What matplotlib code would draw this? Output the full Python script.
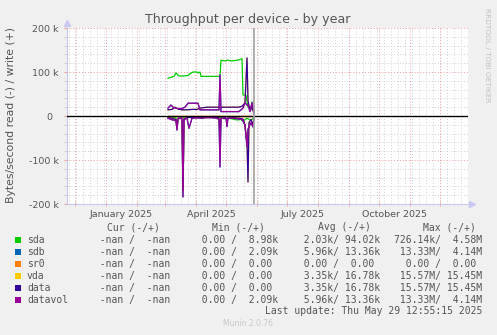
import numpy as np
import matplotlib
matplotlib.use('Agg')
import matplotlib.pyplot as plt
from matplotlib.patches import Rectangle

W, H = 497, 335

# x = dias desde 2025-02-01, valores em kB/s
sda_w_days = [31, 34, 37, 39, 41, 42, 46, 51, 53, 56, 60, 61, 63, 64, 70, 76, 83,
              84, 88, 91, 94, 101, 105, 106, 109, 111, 114, 115, 116, 117]
sda_write = [86, 88, 90, 98, 93, 91, 91, 92, 96, 100, 100, 98, 100, 90, 90, 90, 90,
             127, 125, 127, 125, 127, 130, 48, 47, 20, 18, 32, 17, 9]
sda_r_days = [31, 35, 39, 40, 41, 44, 50, 55, 60, 65, 70, 75, 80, 84, 88, 92, 96,
              100, 104, 106, 110, 114, 117]
sda_read = [3, 2, 5, 25, 8, 3, 2, 4, 2, 3, 2, 3, 2, 4, 6, 5, 7, 9, 8, 12, 5, 10, 3]

data_w_days = [31, 35, 38, 41, 45, 50, 55, 60, 63, 70, 78, 84, 90, 96, 102, 105,
               108, 110, 111, 113, 115, 117]
data_write = [14, 15, 20, 16, 14, 14, 15, 15, 18, 20, 20, 20, 20, 20, 20, 22,
              30, 132, 35, 12, 20, 5]
data_r_days = [31, 35, 39, 40, 41, 45, 46, 47, 52, 58, 64, 70, 76, 82, 83, 84, 90,
               96, 102, 106, 108, 109, 110, 111, 112, 114, 116, 117]
data_read = [4, 5, 8, 28, 6, 4, 170, 6, 3, 4, 3, 4, 3, 4, 40, 5, 6,
             4, 5, 7, 20, 45, 60, 150, 15, 8, 20, 4]

datavol_w_days = [31, 34, 36, 40, 45, 48, 51, 55, 58, 61, 63, 70, 78, 82, 83, 84,
                  90, 96, 102, 106, 108, 110, 111, 113, 115, 117]
datavol_write = [18, 25, 20, 17, 17, 20, 29, 29, 29, 29, 14, 14, 14, 14, 93, 10,
                 10, 10, 10, 18, 30, 25, 25, 10, 30, 8]
datavol_r_days = [31, 34, 38, 39, 40, 41, 44, 45, 46, 47, 50, 52, 55, 60, 65, 70,
                  75, 80, 82, 83, 84, 88, 89, 90, 91, 95, 100, 105, 108, 109, 110,
                  111, 114, 116, 117]
datavol_read = [5, 8, 10, 12, 32, 5, 5, 10, 184, 8, 5, 28, 5, 4, 5, 3,
                4, 5, 8, 116, 6, 3, 5, 24, 4, 5, 6, 8, 20, 45, 70,
                30, 15, 25, 5]

sr0_days = [31, 117]
sr0_vals = [0, 0]

legend_names = ['sda', 'sdb', 'sr0', 'vda', 'data', 'datavol']
legend_colors = ['#00cc00', '#0066b3', '#ff8000', '#ffcc00', '#330099', '#990099']
cur_col = ['  -nan /  -nan ', '  -nan /  -nan ', '  -nan /  -nan ',
           '  -nan /  -nan ', '  -nan /  -nan ', '  -nan /  -nan ']
min_col = ['  0.00 /  8.98k', '  0.00 /  2.09k', '  0.00 /  0.00 ',
           '  0.00 /  0.00 ', '  0.00 /  0.00 ', '  0.00 /  2.09k']
avg_col = ['  2.03k/ 94.02k', '  5.96k/ 13.36k', '  0.00 /  0.00 ',
           '  3.35k/ 16.78k', '  3.35k/ 16.78k', '  5.96k/ 13.36k']
max_col = ['726.14k/  4.58M', ' 13.33M/  4.14M', '  0.00 /  0.00 ',
           ' 15.57M/ 15.45M', ' 15.57M/ 15.45M', ' 13.33M/  4.14M']
headers = ['Cur (-/+)', 'Min (-/+)', 'Avg (-/+)', 'Max (-/+)']

ytick_vals = [-200000, -100000, 0, 100000, 200000]
ytick_labels = ['-200 k', '-100 k', '0  ', '100 k', '200 k']
xtick_months = ['2025-01', '2025-04', '2025-07', '2025-10']
xtick_labels = ['January 2025', 'April 2025', 'July 2025', 'October 2025']

series = [
    ('sda', sda_w_days, sda_write, sda_r_days, sda_read),
    ('sdb', datavol_w_days, datavol_write, datavol_r_days, datavol_read),
    ('sr0', sr0_days, sr0_vals, sr0_days, sr0_vals),
    ('vda', data_w_days, data_write, data_r_days, data_read),
    ('data', data_w_days, data_write, data_r_days, data_read),
    ('datavol', datavol_w_days, datavol_write, datavol_r_days, datavol_read),
]

plt.rcParams['font.family'] = 'DejaVu Sans'
base = np.datetime64('2025-02-01')


def days(d):
    return (np.datetime64(d, 'D') - base).astype(int)


def fx(x):
    return x / W


def fy(y):
    return 1 - y / H


fig = plt.figure(figsize=(W / 100, H / 100), dpi=100, facecolor='#f0f0f0')
ax = fig.add_axes([fx(67), fy(204), (468 - 67) / W, (204 - 28) / H])
ax.set_facecolor('white')
ax.set_xlim(-70, 331)
ax.set_ylim(-200000, 200000)

# grade
axis_col = '#c8c8f0'
for y in range(-200000, 200001, 20000):
    if y % 100000:
        ax.axhline(y, color='#d0d0d0', lw=0.7, ls=(0, (1, 2)), zorder=0)
for d in range(days('2024-11-25'), 331, 7):
    ax.axvline(d, color='#d0d0d0', lw=0.7, ls=(0, (1, 2)), zorder=0)
months = [days(m.astype('datetime64[D]'))
          for m in np.arange(np.datetime64('2024-12'), np.datetime64('2026-01'))]
for d in months:
    ax.axvline(d, color='#eea0a0', lw=0.7, ls=(0, (1, 2)), zorder=0.5)
for y in [-100000, 100000, 200000]:
    ax.axhline(y, color='#eea0a0', lw=0.7, ls=(0, (1, 2)), zorder=0.5)

# series
for (name, wd, wv, rd, rv), col in zip(series, legend_colors):
    ax.plot(wd, np.array(wv) * 1000, color=col, lw=0.9, zorder=2)
    ax.plot(rd, -np.array(rv) * 1000, color=col, lw=0.9, zorder=2)

ax.axhline(0, color='black', lw=1.0, zorder=3)
ax.axvline(days('2025-05-29'), color='#a0a0a0', lw=1.2, zorder=3)

for s in ['top', 'right']:
    ax.spines[s].set_visible(False)
for s in ['left', 'bottom']:
    ax.spines[s].set_color(axis_col)
    ax.spines[s].set_linewidth(0.8)
ax.plot([0], [1.03], marker='^', ms=4, color=axis_col, transform=ax.transAxes,
        clip_on=False)
ax.plot([1.01], [0], marker='>', ms=4, color=axis_col, transform=ax.transAxes,
        clip_on=False)

ax.set_yticks(ytick_vals)
ax.set_yticklabels(ytick_labels)
ax.set_yticks(range(-200000, 200001, 20000), minor=True)
xt = [days(m) + 15.5 for m in xtick_months]
ax.set_xticks(xt)
ax.set_xticklabels(xtick_labels)
ax.set_xticks(months, minor=True)
ax.tick_params(axis='x', which='major', length=0, pad=4)
ax.tick_params(axis='both', which='major', labelsize=6.8, colors='#555555')
ax.tick_params(axis='y', which='major', length=2, color='#eea0a0', pad=4)
ax.tick_params(axis='y', which='minor', length=2, color='#c8c8c8', width=0.6)
ax.tick_params(axis='x', which='minor', length=3, direction='inout',
               color='#eea0a0', width=0.7)

fig.text(fx(248), fy(19), 'Throughput per device - by year', ha='center',
         va='center', fontsize=9.1, color='#555555')
fig.text(fx(11), fy(115), 'Bytes/second read (-) / write (+)', rotation=90,
         ha='center', va='center', fontsize=7.8, color='#555555')
fig.text(fx(487), fy(55), 'RRDTOOL / TOBI OETIKER', rotation=270, ha='center',
         va='center', fontsize=5.3, color='#c0c0c0')

# legenda
mono = 'DejaVu Sans Mono'
tcol = '#555555'
for hx, h in zip([107, 212, 318, 423], headers):
    fig.text(fx(hx), fy(227), h, family=mono, fontsize=7, color=tcol,
             ha='left', va='center')
for i, name in enumerate(legend_names):
    y = 240 + 12 * i
    fig.patches.append(Rectangle((fx(14.5), fy(y + 3)), 6 / W, 6 / H,
                                 transform=fig.transFigure,
                                 facecolor=legend_colors[i], edgecolor='none'))
    fig.text(fx(27), fy(y), name, family=mono, fontsize=7, color=tcol,
             ha='left', va='center')
    for cx, col in zip([88, 190, 292, 394], [cur_col, min_col, avg_col, max_col]):
        fig.text(fx(cx), fy(y), col[i], family=mono, fontsize=7, color=tcol,
                 ha='left', va='center')
fig.text(fx(482), fy(311), 'Last update: Thu May 29 12:55:15 2025', family=mono,
         fontsize=7, color=tcol, ha='right', va='center')
fig.text(fx(248), fy(324), 'Munin 2.0.76', fontsize=5.5, color='#c8c8c8',
         ha='center', va='center')

fig.savefig('out.png', dpi=100, facecolor=fig.get_facecolor())
